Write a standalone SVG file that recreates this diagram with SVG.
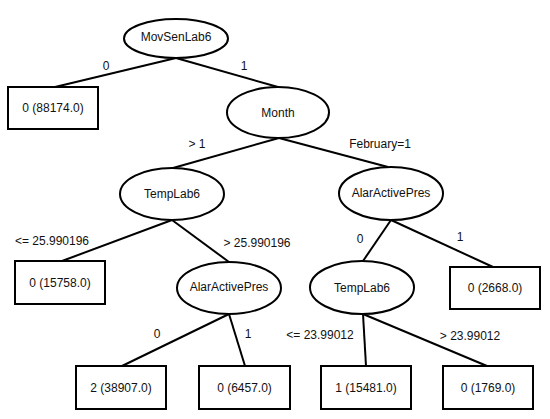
<svg xmlns="http://www.w3.org/2000/svg" width="550" height="419" viewBox="0 0 550 419">
<style>
text{font-family:"Liberation Sans",Arial,sans-serif;font-size:12px;fill:#111;text-anchor:middle;dominant-baseline:central}
.n ellipse,.n rect{fill:#fff;stroke:#000;stroke-width:2}
#edges line{stroke:#000;stroke-width:2}
</style>
<rect width="550" height="419" fill="#fff"/>
<g id="edges">
<line x1="176" y1="58" x2="55" y2="87"/>
<line x1="176" y1="58" x2="278" y2="87"/>
<line x1="279" y1="138" x2="173" y2="168"/>
<line x1="279" y1="138" x2="388" y2="167"/>
<line x1="172" y1="220" x2="62" y2="261"/>
<line x1="172" y1="220" x2="229" y2="262"/>
<line x1="391" y1="220" x2="363" y2="261"/>
<line x1="391" y1="220" x2="493" y2="267"/>
<line x1="229" y1="314" x2="122" y2="366"/>
<line x1="229" y1="314" x2="245" y2="366"/>
<line x1="363" y1="314" x2="366" y2="366"/>
<line x1="363" y1="314" x2="487" y2="366"/>
<text x="106" y="66">0</text>
<text x="244" y="66">1</text>
<text x="197" y="144">&gt; 1</text>
<text x="380" y="144">February=1</text>
<text x="52" y="241">&lt;= 25.990196</text>
<text x="257" y="243">&gt; 25.990196</text>
<text x="360" y="239">0</text>
<text x="460" y="237">1</text>
<text x="157" y="334">0</text>
<text x="248" y="334">1</text>
<text x="320" y="335">&lt;= 23.99012</text>
<text x="470" y="336">&gt; 23.99012</text>
</g>
<g id="n_root" class="n"><ellipse cx="176" cy="38.5" rx="52" ry="19.5"/><text x="176" y="37">MovSenLab6</text></g>
<g id="n_leaf1" class="n"><rect x="8" y="87" width="90" height="42"/><text x="53" y="108">0 (88174.0)</text></g>
<g id="n_month" class="n"><ellipse cx="278" cy="112.5" rx="51" ry="25.5"/><text x="278" y="113">Month</text></g>
<g id="n_temp1" class="n"><ellipse cx="172" cy="194" rx="52" ry="26"/><text x="172" y="194">TempLab6</text></g>
<g id="n_alar1" class="n"><ellipse cx="391" cy="193.5" rx="52" ry="26.5"/><text x="391" y="193">AlarActivePres</text></g>
<g id="n_leaf2" class="n"><rect x="15" y="261" width="90" height="43"/><text x="60" y="283">0 (15758.0)</text></g>
<g id="n_alar2" class="n"><ellipse cx="229" cy="288" rx="52" ry="26"/><text x="229" y="287">AlarActivePres</text></g>
<g id="n_temp2" class="n"><ellipse cx="362" cy="287.5" rx="52" ry="26.5"/><text x="362" y="288">TempLab6</text></g>
<g id="n_leaf3" class="n"><rect x="450" y="267" width="90" height="42"/><text x="495" y="288">0 (2668.0)</text></g>
<g id="n_leaf4" class="n"><rect x="76" y="366" width="90" height="43"/><text x="121" y="388">2 (38907.0)</text></g>
<g id="n_leaf5" class="n"><rect x="199" y="366" width="91" height="43"/><text x="244.5" y="388">0 (6457.0)</text></g>
<g id="n_leaf6" class="n"><rect x="321" y="366" width="90" height="43"/><text x="366" y="388">1 (15481.0)</text></g>
<g id="n_leaf7" class="n"><rect x="443" y="366" width="90" height="43"/><text x="488" y="388">0 (1769.0)</text></g>
</svg>
